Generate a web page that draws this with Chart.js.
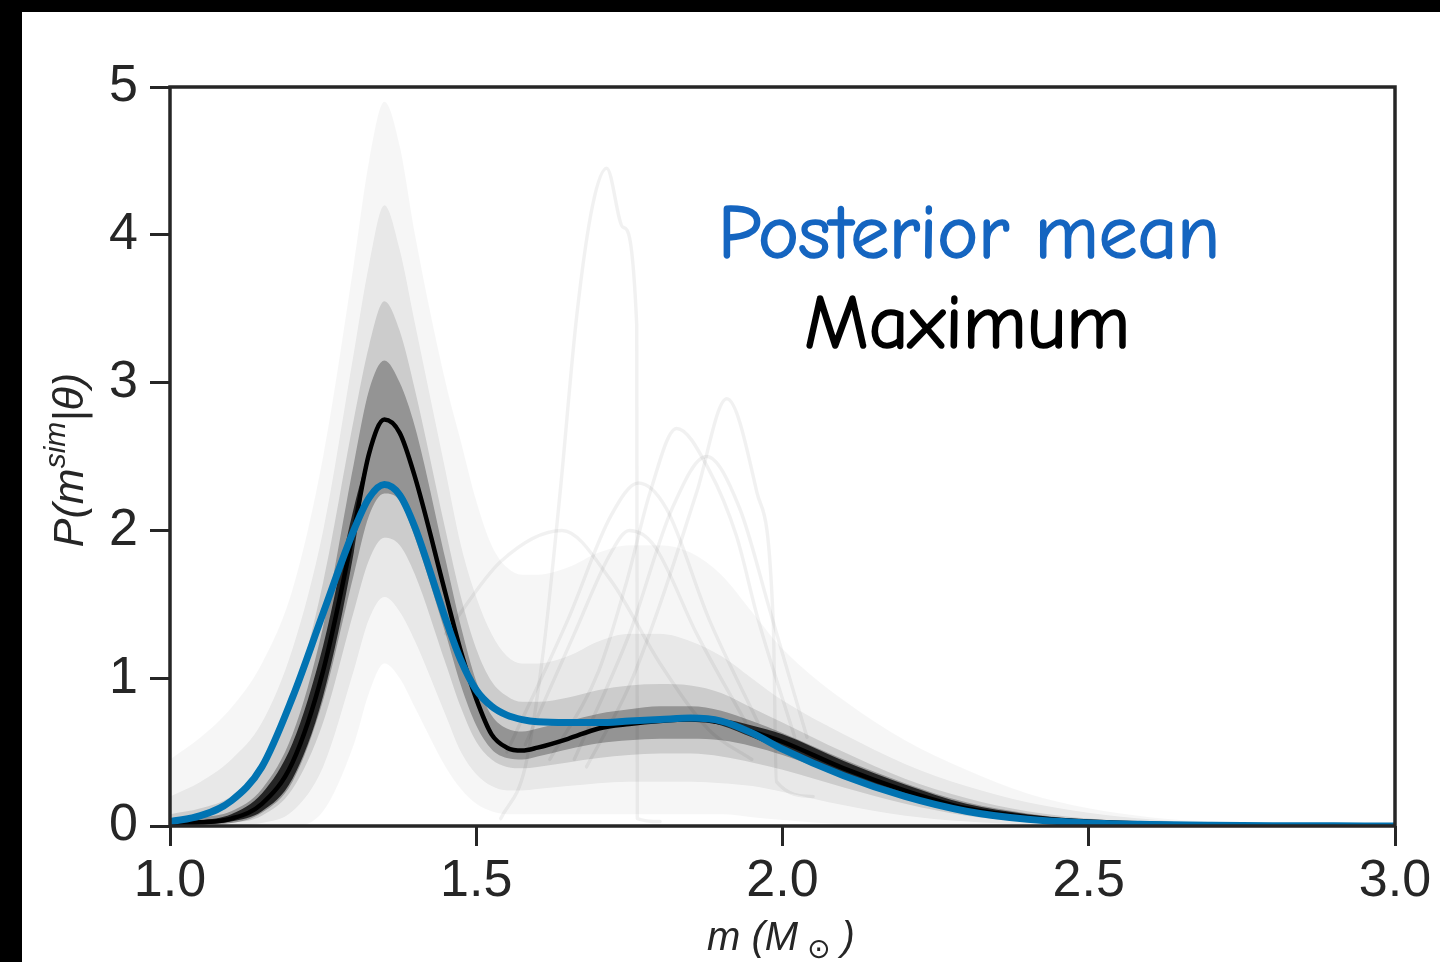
<!DOCTYPE html>
<html>
<head>
<meta charset="utf-8">
<title>P(m | theta) posterior curves</title>
<script src="https://cdn.jsdelivr.net/npm/chart.js"></script>
<style>
  html, body { margin: 0; padding: 0; background: #000; }
  body { width: 1440px; height: 962px; position: relative; overflow: hidden; }
  #frame { position: absolute; left: 22px; top: 12px; width: 1418px; height: 950px; background: #fff; }
</style>
</head>
<body>
<div id="frame"><canvas id="massChart" width="1418" height="950"></canvas></div>
<script>
// Mass grid (M_sun) shared by the two summary curves and the sample envelopes
const massGrid = [1.0, 1.05, 1.1, 1.15, 1.2, 1.25, 1.3, 1.325, 1.35, 1.375, 1.4, 1.45, 1.475, 1.5, 1.525, 1.55, 1.575, 1.6,
                  1.65, 1.7, 1.75, 1.8, 1.85, 1.9, 1.95, 2.0, 2.1, 2.2, 2.3, 2.4, 2.5, 2.6, 2.7, 2.8, 2.9, 3.0];

const posteriorMean = [0.03, 0.07, 0.17, 0.40, 0.87, 1.44, 2.0, 2.22, 2.31, 2.24, 2.02, 1.40, 1.12, 0.92, 0.81, 0.75, 0.72, 0.705,
                       0.70, 0.70, 0.71, 0.72, 0.73, 0.71, 0.63, 0.52, 0.34, 0.20, 0.10, 0.045, 0.02, 0.01, 0.005, 0.002, 0.001, 0];
const maximumPost = [0.02, 0.025, 0.05, 0.15, 0.43, 1.05, 2.0, 2.52, 2.75, 2.66, 2.36, 1.57, 1.18, 0.86, 0.62, 0.53, 0.51, 0.53,
                     0.59, 0.66, 0.69, 0.71, 0.72, 0.70, 0.64, 0.57, 0.39, 0.24, 0.12, 0.06, 0.03, 0.015, 0.007, 0.003, 0.001, 0];

// Envelopes of the posterior draws (grey cloud), widest to narrowest
const outerHigh = [0.45, 0.6, 0.8, 1.1, 1.6, 2.5, 3.8, 4.5, 4.9, 4.6, 4.0, 3.0, 2.6, 2.2, 1.9, 1.75, 1.7, 1.7,
                   1.75, 1.85, 1.9, 1.9, 1.85, 1.7, 1.45, 1.2, 0.85, 0.58, 0.38, 0.22, 0.12, 0.06, 0.03, 0.015, 0.005, 0];
const outerLow = [0, 0, 0, 0, 0, 0.1, 0.55, 0.9, 1.1, 1.0, 0.8, 0.4, 0.25, 0.15, 0.1, 0.08, 0.08, 0.08,
                  0.08, 0.08, 0.08, 0.08, 0.08, 0.08, 0.06, 0.04, 0.01, 0, 0, 0, 0, 0, 0, 0, 0, 0];
const middleHigh = [0.2, 0.3, 0.45, 0.7, 1.2, 2.0, 3.2, 3.8, 4.2, 3.9, 3.4, 2.4, 1.9, 1.55, 1.3, 1.15, 1.1, 1.1,
                    1.15, 1.25, 1.3, 1.3, 1.25, 1.15, 1.0, 0.85, 0.62, 0.42, 0.27, 0.16, 0.09, 0.045, 0.02, 0.01, 0.003, 0];
const middleLow = [0, 0, 0, 0.02, 0.1, 0.4, 1.05, 1.4, 1.55, 1.45, 1.25, 0.75, 0.5, 0.35, 0.27, 0.24, 0.24, 0.25,
                   0.27, 0.29, 0.3, 0.3, 0.3, 0.29, 0.27, 0.23, 0.14, 0.07, 0.03, 0.01, 0, 0, 0, 0, 0, 0];
const innerHigh = [0.08, 0.12, 0.2, 0.4, 0.85, 1.65, 2.75, 3.25, 3.55, 3.35, 2.95, 2.0, 1.55, 1.2, 0.98, 0.88, 0.84, 0.84,
                   0.87, 0.92, 0.95, 0.96, 0.95, 0.9, 0.8, 0.7, 0.5, 0.32, 0.19, 0.1, 0.05, 0.025, 0.01, 0.005, 0.001, 0];
const innerLow = [0, 0.005, 0.02, 0.07, 0.25, 0.7, 1.45, 1.8, 1.95, 1.9, 1.7, 1.1, 0.8, 0.57, 0.45, 0.4, 0.39, 0.4,
                  0.43, 0.46, 0.48, 0.49, 0.49, 0.47, 0.43, 0.38, 0.26, 0.15, 0.07, 0.03, 0.01, 0.003, 0, 0, 0, 0];
const darkHigh = [0.05, 0.06, 0.1, 0.25, 0.62, 1.35, 2.45, 2.95, 3.15, 3.0, 2.7, 1.8, 1.35, 0.98, 0.75, 0.66, 0.64, 0.66,
                  0.71, 0.76, 0.79, 0.81, 0.81, 0.78, 0.71, 0.63, 0.45, 0.29, 0.16, 0.085, 0.04, 0.02, 0.008, 0.003, 0.001, 0];
const darkLow = [0, 0.01, 0.02, 0.09, 0.3, 0.85, 1.7, 2.1, 2.25, 2.2, 1.95, 1.3, 0.95, 0.68, 0.52, 0.46, 0.45, 0.47,
                 0.52, 0.56, 0.58, 0.59, 0.59, 0.58, 0.54, 0.48, 0.33, 0.19, 0.09, 0.04, 0.015, 0.005, 0, 0, 0, 0];
// near-black streak where the draws pile up (rising edge and tail only)
const coreHigh = [0.03, 0.04, 0.08, 0.22, 0.56, 1.22, 2.15, 2.52, 2.75, 2.66, 2.36, 1.57, 1.18, 0.86, 0.62, 0.53, 0.51, 0.53,
                  0.59, 0.66, 0.69, 0.71, 0.72, 0.72, 0.68, 0.62, 0.44, 0.28, 0.15, 0.08, 0.04, 0.02, 0.008, 0.003, 0.001, 0];
const coreLow = [0, 0.01, 0.03, 0.1, 0.32, 0.88, 1.85, 2.52, 2.75, 2.66, 2.36, 1.57, 1.18, 0.86, 0.62, 0.53, 0.51, 0.53,
                 0.59, 0.66, 0.69, 0.71, 0.72, 0.68, 0.6, 0.51, 0.34, 0.2, 0.09, 0.04, 0.015, 0.005, 0, 0, 0, 0];

// A few individual draws that stand out of the cloud
const spikeMass = [1.54, 1.58, 1.61, 1.637, 1.664, 1.69, 1.713, 1.74, 1.762, 1.763, 1.8];
const spikeProb = [0.05, 0.4, 1.2, 2.26, 3.45, 4.2, 4.45, 4.05, 3.39, 0.05, 0.03];
const drawBMass = [1.68, 1.75, 1.80, 1.86, 1.909, 1.958, 1.985, 1.99, 2.05];
const drawBProb = [0.4, 0.95, 1.5, 2.26, 2.89, 2.26, 1.37, 0.3, 0.2];
const drawCMass = [1.62, 1.70, 1.746, 1.784, 1.827, 1.88, 1.925, 1.96, 2.02];
const drawCProb = [0.45, 1.05, 1.66, 2.26, 2.69, 2.41, 1.96, 1.4, 0.6];
const drawDMass = [1.66, 1.75, 1.82, 1.876, 1.93, 1.98, 2.04];
const drawDProb = [0.45, 1.3, 2.15, 2.5, 2.15, 1.45, 0.6];
const drawEMass = [1.45, 1.54, 1.64, 1.72, 1.80, 1.88, 1.95];
const drawEProb = [1.3, 1.79, 2.0, 1.66, 1.1, 0.65, 0.45];
const drawFMass = [1.55, 1.65, 1.72, 1.765, 1.81, 1.88, 1.96];
const drawFProb = [0.5, 1.4, 2.1, 2.32, 2.15, 1.4, 0.7];
const drawGMass = [1.58, 1.66, 1.72, 1.75, 1.79, 1.86, 1.94];
const drawGProb = [0.55, 1.3, 1.85, 2.0, 1.9, 1.3, 0.7];

const xTicks = [1.0, 1.5, 2.0, 2.5, 3.0];
const yTicks = [0, 1, 2, 3, 4, 5];

const AXIS_COLOR = '#262626';
const TICK_FONT = { family: '"Liberation Sans", Arial, sans-serif', size: 52 };

function toPoints(xs, ys) {
    return xs.map((x, i) => ({ x: x, y: ys[i] }));
}

function curve(xs, ys, color, width) {
    return { data: toPoints(xs, ys), borderColor: color, borderWidth: width, fill: false };
}

function sampleCurve(xs, ys) {
    return { data: toPoints(xs, ys), borderColor: 'rgba(0,0,0,0.055)', borderWidth: 3.5, fill: false };
}

// upper edge fills down to the following (lower) dataset
function band(upper, lower, alpha) {
    return [
        { data: toPoints(massGrid, upper), borderColor: 'rgba(0,0,0,0)', borderWidth: 1,
          backgroundColor: 'rgba(0,0,0,' + alpha + ')', fill: '+1' },
        { data: toPoints(massGrid, lower), borderColor: 'rgba(0,0,0,0)', borderWidth: 1, fill: false }
    ];
}

// draw a run of text pieces (with super/subscripts) centred on cx, baseline cy
function drawRichText(ctx, parts, cx, cy, angle) {
    ctx.save();
    ctx.translate(cx, cy);
    ctx.rotate(angle);
    ctx.textBaseline = 'alphabetic';
    ctx.textAlign = 'left';
    let total = 0;
    parts.forEach(p => { ctx.font = p.font; total += ctx.measureText(p.text).width; });
    let x = -total / 2;
    parts.forEach(p => {
        ctx.font = p.font;
        ctx.fillStyle = p.color || AXIS_COLOR;
        ctx.fillText(p.text, x, p.dy || 0);
        x += ctx.measureText(p.text).width;
    });
    ctx.restore();
}

const decorations = {
    id: 'decorations',
    afterDatasetsDraw(chart) {
        const { ctx, chartArea: a } = chart;
        ctx.save();
        ctx.strokeStyle = AXIS_COLOR;
        ctx.lineWidth = 3.5;
        ctx.strokeRect(a.left, a.top, a.right - a.left, a.bottom - a.top);
        ctx.restore();
    },
    afterDraw(chart) {
        const ctx = chart.ctx;
        const fam = '"Liberation Sans", "DejaVu Sans", Arial, sans-serif';
        // y axis title P(m^sim | theta)
        drawRichText(ctx, [
            { text: 'P(m', font: 'italic 43px ' + fam },
            { text: 'sim', font: 'italic 30px ' + fam, dy: -18 },
            { text: '|θ)', font: 'italic 43px ' + fam }
        ], 61, 448, -Math.PI / 2);
        // x axis title m (M_sun)
        drawRichText(ctx, [
            { text: 'm (M', font: 'italic 40px ' + fam },
            { text: ' ⊙', font: '28px "DejaVu Sans", sans-serif', dy: 8 },
            { text: ' )', font: 'italic 40px ' + fam }
        ], 759, 938, 0);

        // legend-like annotation, sized to the width it has in the figure
        const hand = '"Comic Sans MS", "Comic Neue", "DejaVu Sans", sans-serif';
        ctx.save();
        ctx.font = '64px ' + hand;
        const size = 64 * 502 / ctx.measureText('Posterior mean').width;
        ctx.font = size.toFixed(1) + 'px ' + hand;
        ctx.textAlign = 'center';
        ctx.textBaseline = 'alphabetic';
        ctx.lineWidth = 1.6;
        ctx.fillStyle = ctx.strokeStyle = '#1565c0';
        ctx.fillText('Posterior mean', 947, 246);
        ctx.strokeText('Posterior mean', 947, 246);
        ctx.fillStyle = ctx.strokeStyle = '#000000';
        ctx.fillText('Maximum', 945, 336);
        ctx.strokeText('Maximum', 945, 336);
        ctx.restore();
    }
};

function buildChart() {
    const ctx = document.getElementById('massChart').getContext('2d');
    const datasets = [
        curve(massGrid, posteriorMean, '#0173b2', 7),
        curve(massGrid, maximumPost, '#000000', 4.5),
        sampleCurve(spikeMass, spikeProb),
        sampleCurve(drawBMass, drawBProb),
        sampleCurve(drawCMass, drawCProb),
        sampleCurve(drawDMass, drawDProb),
        sampleCurve(drawEMass, drawEProb),
        sampleCurve(drawFMass, drawFProb),
        sampleCurve(drawGMass, drawGProb)
    ].concat(
        band(coreHigh, coreLow, 0.75),
        band(darkHigh, darkLow, 0.28),
        band(innerHigh, innerLow, 0.12),
        band(middleHigh, middleLow, 0.06),
        band(outerHigh, outerLow, 0.035)
    );

    new Chart(ctx, {
        type: 'line',
        data: { datasets: datasets },
        options: {
            responsive: false,
            devicePixelRatio: 1,
            animation: false,
            layout: { padding: { top: 75, right: 45, left: 0, bottom: 0 } },
            elements: {
                point: { radius: 0, hoverRadius: 0 },
                line: { cubicInterpolationMode: 'monotone', borderCapStyle: 'round', borderJoinStyle: 'round' }
            },
            plugins: { legend: { display: false }, tooltip: { enabled: false } },
            scales: {
                x: {
                    type: 'linear', min: 1, max: 3,
                    afterFit: s => { s.height = 136; },
                    afterBuildTicks: s => { s.ticks = xTicks.map(v => ({ value: v })); },
                    border: { display: false },
                    grid: { drawOnChartArea: false, drawTicks: true, tickLength: 20, tickWidth: 3, tickColor: AXIS_COLOR },
                    ticks: { color: AXIS_COLOR, font: TICK_FONT, padding: 4, maxRotation: 0,
                             callback: v => v.toFixed(1) }
                },
                y: {
                    type: 'linear', min: 0, max: 5,
                    afterFit: s => { s.width = 148; },
                    afterBuildTicks: s => { s.ticks = yTicks.map(v => ({ value: v })); },
                    border: { display: false },
                    grid: { drawOnChartArea: false, drawTicks: true, tickLength: 20, tickWidth: 3, tickColor: AXIS_COLOR },
                    ticks: { color: AXIS_COLOR, font: TICK_FONT, padding: 12, callback: v => String(v) }
                }
            }
        },
        plugins: [decorations]
    });
}

buildChart();
</script>
</body>
</html>
